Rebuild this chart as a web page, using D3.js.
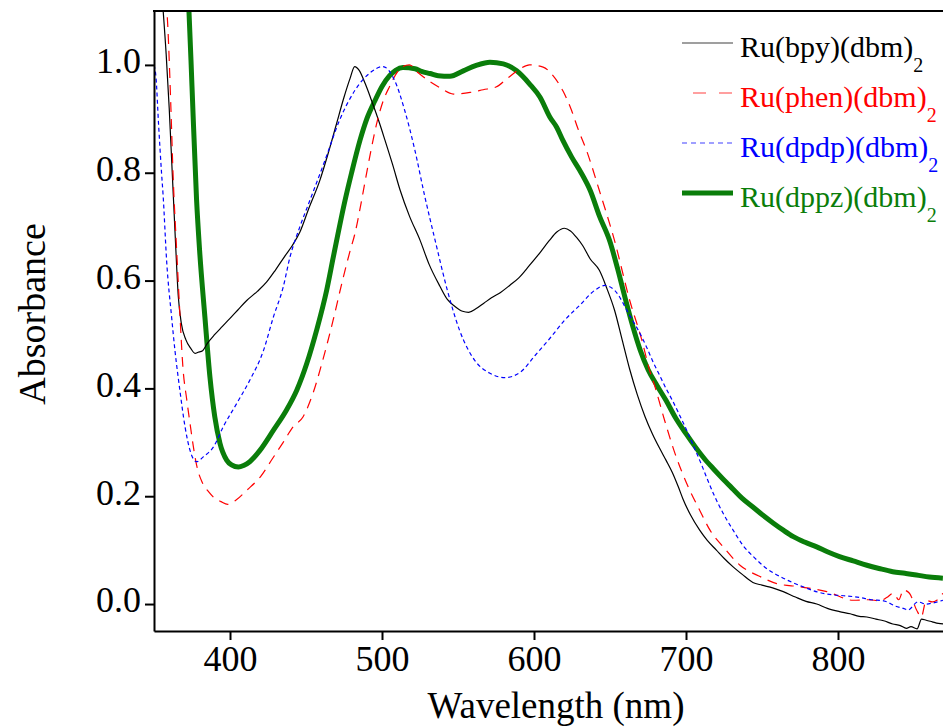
<!DOCTYPE html>
<html>
<head>
<meta charset="utf-8">
<script src="https://cdn.jsdelivr.net/npm/d3@7"></script>
<style>
  html, body { margin: 0; padding: 0; background: #fff; }
  svg { display: block; font-family: "Liberation Serif", "Times New Roman", serif; }
</style>
</head>
<body>
<svg id="chart" width="943" height="727"></svg>
<script>
// UV-vis absorption spectra, normalised, [wavelength nm, absorbance]
const bpy = [
  [355.5,1.12],[358,1.02],[360,0.92],[362,0.80],[364,0.68],[366,0.57],[368,0.52],[371,0.49],
  [374,0.475],[377,0.465],[379,0.467],[382,0.47],[385,0.483],[390,0.50],[395,0.515],[400,0.53],
  [405,0.545],[411,0.563],[418,0.58],[424,0.597],[430,0.62],[436,0.645],[441,0.665],[446,0.69],
  [452,0.735],[459,0.785],[465,0.84],[470,0.89],[475,0.94],[479,0.975],[482,0.997],[485,0.99],
  [489,0.965],[493,0.935],[498,0.895],[502,0.86],[507,0.815],[512,0.767],[518,0.72],[525,0.675],
  [531,0.63],[538,0.59],[543,0.565],[548,0.552],[553,0.543],[557,0.541],[562,0.548],[567,0.558],
  [572,0.568],[578,0.578],[584,0.591],[590,0.605],[597,0.628],[604,0.652],[610,0.674],[615,0.69],
  [620,0.697],[624,0.692],[628,0.68],[632,0.665],[637,0.64],[643,0.619],[648,0.585],[653,0.545],
  [658,0.49],[663,0.435],[668,0.388],[673,0.348],[678,0.315],[683,0.287],[687,0.266],[691,0.244],
  [695,0.217],[698,0.195],[703,0.165],[709,0.137],[714,0.118],[720,0.10],[725,0.085],[731,0.069],
  [737,0.055],[744,0.040],[750,0.035],[757,0.030],[764,0.023],[772,0.013],[779,0.005],[786,0.0],
  [793,-0.008],[801,-0.014],[808,-0.018],[814,-0.023],[819,-0.024],[825,-0.028],[830,-0.031],
  [836,-0.037],[841,-0.040],[845,-0.045],[848,-0.042],[852,-0.046],[855,-0.028],[858,-0.030],
  [862,-0.033],[866,-0.036],[870,-0.037]
];
const phen = [
  [358,1.12],[359,1.076],[361,0.93],[362.5,0.80],[364.9,0.656],[367,0.54],[369,0.44],[371.5,0.38],
  [373.7,0.335],[376,0.29],[378,0.258],[382,0.224],[386,0.208],[390,0.196],[394,0.19],[398.5,0.185],
  [404,0.193],[411,0.211],[420,0.236],[428,0.27],[435,0.30],[441.6,0.329],[448,0.347],[454.6,0.391],
  [461,0.452],[467.8,0.526],[474,0.60],[479,0.655],[482,0.685],[486,0.74],[489,0.786],[493,0.845],
  [497,0.897],[501,0.935],[505,0.96],[509,0.982],[513,0.996],[518,1.0],[524,0.985],[531,0.97],
  [538,0.958],[547,0.946],[558,0.949],[566.6,0.954],[575,0.959],[582,0.974],[591,0.993],[597,1.0],
  [606,0.996],[612.5,0.98],[619,0.952],[624.8,0.915],[629,0.881],[634.6,0.841],[643,0.767],
  [653,0.674],[663,0.563],[671,0.489],[676,0.434],[679.6,0.403],[686,0.34],[692.8,0.279],
  [701.5,0.217],[709,0.174],[715.8,0.137],[724.5,0.106],[735.5,0.072],[748.7,0.051],[759.7,0.038],
  [775,0.032],[792.6,0.023],[810,0.007],[820,0.008],[827.6,0.006],[832,0.012],[836.4,0.02],
  [840,0.008],[843,0.026],[847,0.02],[851.7,-0.011],[854.8,-0.024],[858,0.007],[862,0.004],
  [865,0.007],[869,0.02]
];
const dpdp = [
  [350,1.0],[351.3,0.977],[353,0.89],[355,0.798],[356,0.758],[358.3,0.637],[361.6,0.532],
  [363.8,0.47],[367,0.397],[370.4,0.329],[373.7,0.285],[378,0.264],[382.4,0.273],[389,0.291],
  [395.6,0.329],[404.4,0.372],[413,0.415],[422,0.47],[428.5,0.532],[435,0.588],[439.5,0.644],
  [446,0.70],[452.6,0.749],[462.5,0.823],[472,0.897],[482,0.952],[492,0.985],[500.6,0.997],
  [508.5,0.97],[515,0.915],[521.7,0.841],[528,0.758],[535,0.674],[543,0.582],[551,0.508],
  [561,0.452],[571,0.428],[581,0.42],[591,0.43],[600.7,0.461],[610.5,0.493],[620,0.526],
  [630,0.554],[640,0.582],[646.7,0.591],[653,0.582],[663,0.535],[669.7,0.502],[674,0.477],
  [678.5,0.448],[682,0.428],[687,0.399],[691,0.378],[695,0.355],[700,0.325],[705,0.293],
  [710,0.26],[714,0.232],[718,0.205],[724.5,0.168],[731,0.137],[737.7,0.108],[744.3,0.088],
  [753,0.066],[764,0.048],[777,0.032],[787,0.022],[797,0.017],[806,0.015],[814.5,0.012],
  [822,0.008],[830,0.006],[838,-0.004],[843,-0.008],[846,-0.011],[852.6,0.004],[858,0.0],
  [862.5,0.002],[869,0.007]
];
const dppz = [
  [372,1.15],[373,1.10],[375,0.96],[378,0.75],[380,0.656],[383.5,0.532],[386.8,0.421],[390,0.347],
  [393.4,0.298],[397.8,0.267],[401,0.258],[405.5,0.254],[409,0.257],[413,0.264],[419.7,0.285],
  [428.5,0.322],[437,0.359],[444,0.397],[450.5,0.446],[457,0.508],[463.6,0.582],[468,0.644],
  [475.7,0.749],[480,0.80],[485.5,0.86],[490,0.90],[495.4,0.934],[500,0.96],[505,0.98],[509,0.99],
  [513.8,0.995],[521.7,0.993],[526,0.988],[531.6,0.984],[537,0.98],[544.7,0.979],[553.5,0.989],
  [562,0.999],[571,1.005],[579.8,1.002],[588.6,0.989],[597,0.965],[604,0.94],[610.5,0.903],
  [615,0.884],[619,0.86],[624.8,0.829],[631,0.80],[637,0.767],[643,0.72],[650,0.672],[655,0.622],
  [660,0.567],[665,0.515],[670,0.47],[675,0.435],[681,0.405],[687,0.377],[693,0.346],[700,0.316],
  [706,0.292],[712,0.27],[718,0.251],[724,0.233],[731,0.213],[737,0.196],[744,0.18],[750,0.166],
  [757.5,0.15],[764,0.137],[770.6,0.125],[778,0.115],[786,0.106],[793,0.097],[801,0.088],
  [810,0.08],[819,0.072],[827,0.066],[836,0.06],[844,0.057],[851.6,0.054],[860,0.05],[869,0.048]
];

const xTicks = [400, 500, 600, 700, 800];
const yTicks = [0.0, 0.2, 0.4, 0.6, 0.8, 1.0];

const series = [
  { name: "Ru(dppz)(dbm)", data: dppz, color: "#0a7d0a", width: 5,   dash: null },
  { name: "Ru(bpy)(dbm)",  data: bpy,  color: "#000000", width: 1.2, dash: null },
  { name: "Ru(phen)(dbm)", data: phen, color: "#ff0000", width: 1.2, dash: "10,7" },
  { name: "Ru(dpdp)(dbm)", data: dpdp, color: "#0000ff", width: 1.2, dash: "4,3" }
];
const legendOrder = ["Ru(bpy)(dbm)", "Ru(phen)(dbm)", "Ru(dpdp)(dbm)", "Ru(dppz)(dbm)"];

const svg = d3.select("#chart");
const plotL = 154, plotR = 943, plotT = 11, plotB = 631;

const x = d3.scaleLinear().domain([350, 350 + (plotR - plotL) / 1.52]).range([plotL, plotR]);
const y = d3.scaleLinear().domain([-0.05, 1.1]).range([plotB, plotT]);

svg.append("defs").append("clipPath").attr("id", "plot")
  .append("rect").attr("x", plotL).attr("y", plotT)
  .attr("width", plotR - plotL).attr("height", plotB - plotT);

const line = d3.line()
  .x(d => x(d[0])).y(d => y(d[1]))
  .curve(d3.curveMonotoneX);

const curves = svg.append("g").attr("clip-path", "url(#plot)");
series.forEach(s => {
  curves.append("path")
    .attr("d", line(s.data))
    .attr("fill", "none")
    .attr("stroke", s.color)
    .attr("stroke-width", s.width)
    .attr("stroke-linejoin", "round")
    .attr("stroke-dasharray", s.dash);
});

// axes
const xAxis = svg.append("g")
  .attr("transform", `translate(0,${plotB})`)
  .call(d3.axisBottom(x).tickValues(xTicks).tickFormat(d3.format("d"))
    .tickSize(9).tickSizeOuter(0).tickPadding(5));
const yAxis = svg.append("g")
  .attr("transform", `translate(${plotL},0)`)
  .call(d3.axisLeft(y).tickValues(yTicks).tickFormat(d3.format(".1f"))
    .tickSize(9).tickSizeOuter(0).tickPadding(4));

[xAxis, yAxis].forEach(g => {
  g.select(".domain").attr("stroke", "#000").attr("stroke-width", 2);
  g.selectAll(".tick line").attr("stroke", "#000").attr("stroke-width", 2);
  g.selectAll(".tick text")
    .attr("fill", "#000")
    .style("font-family", '"Liberation Serif", "Times New Roman", serif')
    .style("font-size", "36px");
});
yAxis.selectAll(".tick text").attr("dy", "0.22em");

// top frame
svg.append("line")
  .attr("x1", plotL - 1).attr("x2", plotR).attr("y1", plotT).attr("y2", plotT)
  .attr("stroke", "#000").attr("stroke-width", 2);

// axis titles
svg.append("text")
  .attr("x", 556).attr("y", 718)
  .attr("text-anchor", "middle")
  .style("font-size", "37px")
  .text("Wavelength (nm)");
svg.append("text")
  .attr("transform", "translate(45,314) rotate(-90)")
  .attr("text-anchor", "middle")
  .style("font-size", "38px")
  .text("Absorbance");

// legend
const legend = svg.append("g");
legendOrder.forEach((name, i) => {
  const s = series.find(d => d.name === name);
  const cy = 43 + i * 50;
  legend.append("line")
    .attr("x1", 682).attr("x2", 733).attr("y1", cy).attr("y2", cy)
    .attr("stroke", s.color)
    .attr("stroke-width", s.width === 5 ? 5 : 1.2)
    .attr("stroke-opacity", s.width === 5 ? 1 : 0.75)
    .attr("stroke-dasharray", s.dash === "10,7" ? "13,13" : (s.dash ? "5,4" : null))
    .attr("stroke-dashoffset", s.dash === "10,7" ? -11 : 0);
  const t = legend.append("text")
    .attr("x", 740).attr("y", cy + 14)
    .attr("fill", s.color)
    .style("font-size", "30px");
  t.append("tspan").text(name);
  t.append("tspan").attr("dy", 15).style("font-size", "20px").text("2");
});
</script>
</body>
</html>
